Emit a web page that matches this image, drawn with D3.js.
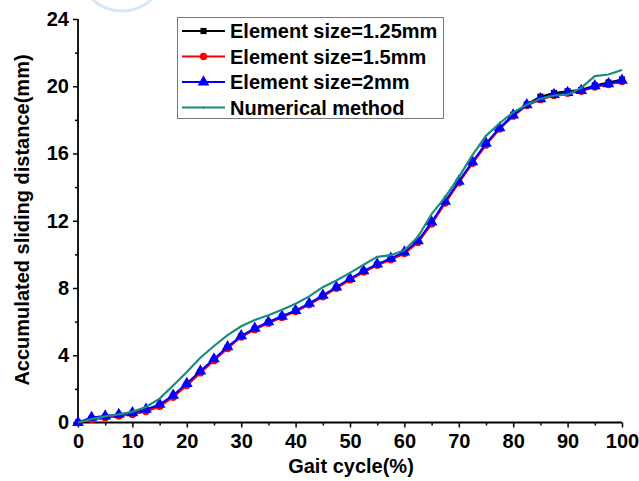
<!DOCTYPE html>
<html><head><meta charset="utf-8">
<script src="https://cdn.jsdelivr.net/npm/d3@7"></script>
<style>
body{margin:0;background:#fff}
svg{display:block}
text{font-family:"Liberation Sans",Arial,sans-serif;font-weight:bold;fill:#000}
</style>
</head><body>
<svg id="c" width="639" height="481"></svg>
<script>
const gait = [0,2.5,5,7.5,10,12.5,15,17.5,20,22.5,25,27.5,30,32.5,35,37.5,40,42.5,45,47.5,50,52.5,55,57.5,60,62.5,65,67.5,70,72.5,75,77.5,80,82.5,85,87.5,90,92.5,95,97.5,100];
const size125 = [0,0.22,0.33,0.42,0.52,0.7,1.0,1.55,2.25,3.0,3.72,4.45,5.12,5.57,5.95,6.3,6.64,7.05,7.52,8.02,8.52,8.98,9.38,9.72,10.1,10.75,11.85,13.1,14.3,15.45,16.55,17.5,18.3,18.92,19.38,19.6,19.7,19.78,20.05,20.22,20.4];
const size15 = [0,0.18,0.28,0.38,0.48,0.65,0.95,1.5,2.2,2.95,3.68,4.4,5.08,5.52,5.9,6.25,6.6,7.0,7.48,7.98,8.48,8.95,9.35,9.68,10.05,10.7,11.8,13.05,14.25,15.4,16.5,17.45,18.22,18.85,19.2,19.45,19.58,19.7,19.95,20.1,20.28];
const size2 = [0,0.3,0.38,0.48,0.58,0.78,1.08,1.62,2.32,3.06,3.78,4.5,5.15,5.6,5.98,6.32,6.66,7.08,7.56,8.06,8.56,9.02,9.42,9.76,10.14,10.8,11.92,13.16,14.35,15.5,16.6,17.52,18.28,18.9,19.25,19.5,19.62,19.74,20.02,20.15,20.35];
const numGait = [0,2.5,5,7.5,10,12.5,15,17.5,20,22.5,25,27.5,30,32.5,35,37.5,40,42.5,45,47.5,50,52.5,55,57.5,60,62.5,65,67.5,70,72.5,75,77.5,80,82.5,85,87.5,90,92.5,95,97.5,100];
const numerical = [0,0.2,0.36,0.48,0.63,0.92,1.42,2.2,3.0,3.85,4.55,5.2,5.72,6.1,6.38,6.7,7.06,7.5,8.05,8.45,8.9,9.38,9.85,9.95,10.25,11.05,12.4,13.4,14.6,15.9,17.05,17.8,18.45,18.9,19.25,19.45,19.5,19.9,20.6,20.7,20.97];
const xTicks = [0,10,20,30,40,50,60,70,80,90,100];
const xMinor = [5,15,25,35,45,55,65,75,85,95];
const yTicks = [0,4,8,12,16,20,24];
const yMinor = [2,6,10,14,18,22];
const legendLabels = ["Element size=1.25mm","Element size=1.5mm","Element size=2mm","Numerical method"];

const svg = d3.select("#c");
const x = d3.scaleLinear().domain([0,100]).range([78,622]);
const y = d3.scaleLinear().domain([0,24]).range([422.5,19]);
const FONT = '"Liberation Sans",Arial,sans-serif';

// faint decorative arc at top
svg.append("ellipse").attr("cx",122).attr("cy",-38).attr("rx",46).attr("ry",49)
  .attr("fill","none").attr("stroke","#d6e8f7").attr("stroke-width",3);

// axes
const xAxis = svg.append("g").attr("transform",`translate(0,${y(0)})`)
  .call(d3.axisBottom(x).tickValues(xTicks).tickSize(5).tickFormat(d3.format("d")));
svg.append("g").attr("transform",`translate(0,${y(0)})`)
  .call(d3.axisBottom(x).tickValues(xMinor).tickSize(3).tickFormat(""))
  .call(g=>g.select(".domain").remove());
const yAxis = svg.append("g").attr("transform",`translate(${x(0)},0)`)
  .call(d3.axisLeft(y).tickValues(yTicks).tickSize(5).tickFormat(d3.format("d")));
svg.append("g").attr("transform",`translate(${x(0)},0)`)
  .call(d3.axisLeft(y).tickValues(yMinor).tickSize(3).tickFormat(""))
  .call(g=>g.select(".domain").remove());
svg.selectAll(".domain").attr("stroke","#000").attr("stroke-width",1.8);
svg.selectAll(".tick line").attr("stroke","#000").attr("stroke-width",1.5);
xAxis.selectAll(".tick text").attr("font-size",20).attr("dy","0.85em");
yAxis.selectAll(".tick text").attr("font-size",20).attr("x",-9);
svg.selectAll("g").attr("font-family",null).attr("font-size",null);
svg.selectAll(".tick text").style("font-family",FONT).style("font-weight","bold").style("font-size","20px");
xAxis.select(".domain").attr("d",`M${x(0)},0H${x(100)}`);
yAxis.select(".domain").attr("d",`M0,${y(0)}V${y(24)}`);

svg.append("text").attr("x",351).attr("y",473).attr("text-anchor","middle").attr("font-size",20).text("Gait cycle(%)");
svg.append("text").attr("transform","translate(29,220) rotate(-90)").attr("text-anchor","middle").attr("font-size",20).text("Accumulated sliding distance(mm)");

const series = [
  {vals:size125,color:"#000000",shape:"square"},
  {vals:size15,color:"#ff0000",shape:"circle"},
  {vals:size2,color:"#0000ff",shape:"triangle"}
];
const symType = {square:d3.symbolSquare,circle:d3.symbolCircle,triangle:d3.symbolTriangle};
const symSize = {square:38,circle:42,triangle:60};
const line = d3.line().x((d,i)=>x(gait[i])).y(d=>y(d));
series.forEach(s=>{
  svg.append("path").datum(s.vals).attr("d",line).attr("fill","none").attr("stroke",s.color).attr("stroke-width",2);
  svg.selectAll(null).data(s.vals).enter().append("path")
    .attr("d",d3.symbol().type(symType[s.shape]).size(symSize[s.shape]))
    .attr("transform",(d,i)=>`translate(${x(gait[i])},${y(d)})`)
    .attr("fill",s.color);
});
const teal = "#1b8a80";
svg.append("path").datum(numerical)
  .attr("d",d3.line().x((d,i)=>x(numGait[i])).y(d=>y(d)))
  .attr("fill","none").attr("stroke",teal).attr("stroke-width",2.2);

// legend
const lg = svg.append("g");
lg.append("rect").attr("x",177.5).attr("y",17.5).attr("width",266).attr("height",101)
  .attr("fill","#fff").attr("stroke","#777").attr("stroke-width",1);
const rowsY = [31,56.5,82,107.5];
const legItems = [...series.map(s=>({color:s.color,shape:s.shape})),{color:teal,shape:null}];
legItems.forEach((it,i)=>{
  const yy = rowsY[i];
  lg.append("line").attr("x1",182).attr("x2",225).attr("y1",yy).attr("y2",yy)
    .attr("stroke",it.color).attr("stroke-width",2);
  if(it.shape){
    lg.append("path").attr("d",d3.symbol().type(symType[it.shape]).size(symSize[it.shape]))
      .attr("transform",`translate(203.5,${yy})`).attr("fill",it.color);
  } else {
    lg.append("circle").attr("cx",203.5).attr("cy",yy).attr("r",1.2).attr("fill",it.color);
  }
  lg.append("text").attr("x",230).attr("y",yy).attr("dy","0.36em").attr("font-size",20).text(legendLabels[i]);
});
</script>
</body></html>
